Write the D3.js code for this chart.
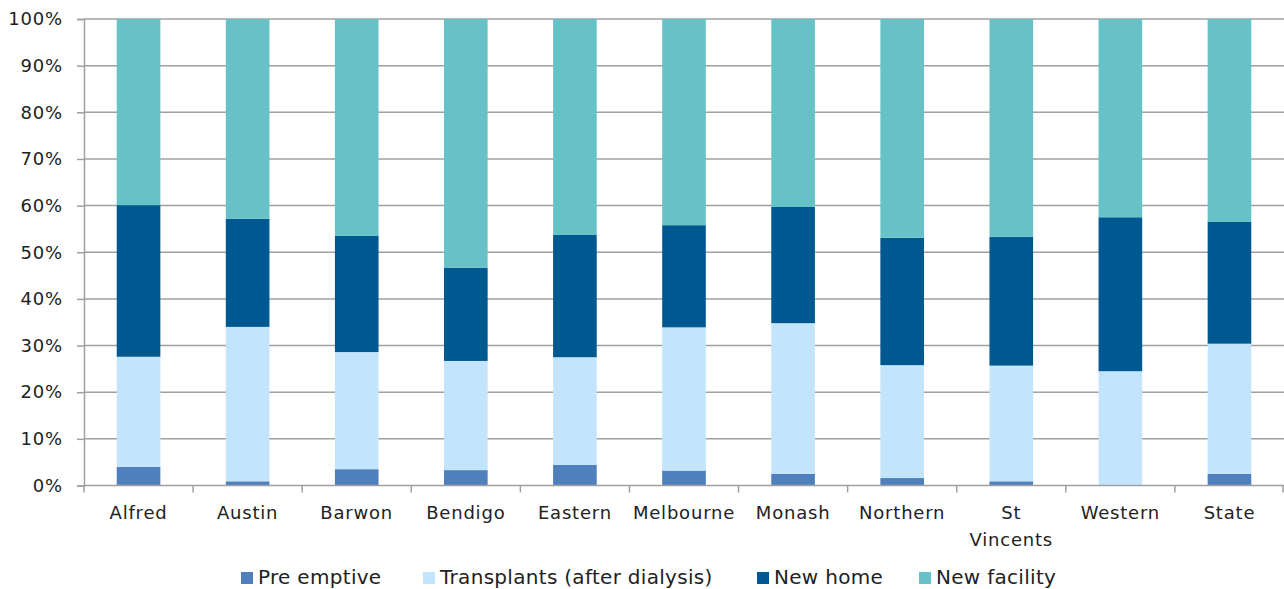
<!DOCTYPE html>
<html><head><meta charset="utf-8">
<script src="https://cdn.jsdelivr.net/npm/d3@7"></script>
<style>body{margin:0;background:#fff;}svg{display:block;font-family:"DejaVu Sans",sans-serif;}</style>
</head><body><svg id="c" width="1284" height="589"></svg>
<script>
const categories = ["Alfred","Austin","Barwon","Bendigo","Eastern","Melbourne","Monash","Northern","St Vincents","Western","State"];
const seriesNames = ["Pre emptive","Transplants (after dialysis)","New home","New facility"];
const preEmptive   = [4.0, 0.9, 3.5, 3.3, 4.4, 3.2, 2.5, 1.6, 0.9, 0.0, 2.5];
const transplants  = [23.6, 33.1, 25.1, 23.4, 23.1, 30.7, 32.3, 24.2, 24.8, 24.5, 27.9];
const newHome      = [32.5, 23.2, 24.9, 20.0, 26.2, 21.9, 24.9, 27.3, 27.6, 33.0, 26.1];
const newFacility  = [39.9, 42.8, 46.5, 53.3, 46.3, 44.2, 40.3, 46.9, 46.7, 42.5, 43.5];
const yTicks = [0,10,20,30,40,50,60,70,80,90,100];
const colors = ["#4f80bd","#c3e5fc","#005891","#67c2c8"];

const svg = d3.select("#c");
const m = {l:84, r:0, t:19, b:104};
const W = 1284, H = 589;
const x = d3.scaleBand().domain(categories).range([m.l, W - m.r]).paddingInner(0.6).paddingOuter(0.3);
const xb = d3.scaleBand().domain(categories).range([m.l, W - m.r]);
const y = d3.scaleLinear().domain([0,100]).range([H - m.b + 0.5, m.t]);

// gridlines
svg.append("g").selectAll("line").data(yTicks.filter(d=>d>0)).join("line")
  .attr("x1", m.l).attr("x2", W).attr("y1", d=>y(d)).attr("y2", d=>y(d))
  .attr("stroke","#a0a0a0").attr("stroke-width",1.5);

const rows = categories.map((c,i)=>({cat:c, s0:preEmptive[i], s1:transplants[i], s2:newHome[i], s3:newFacility[i]}));
const stack = d3.stack().keys(["s0","s1","s2","s3"]);
const layers = stack(rows);
svg.append("g").selectAll("g").data(layers).join("g").attr("fill",(d,i)=>colors[i])
  .selectAll("rect").data(d=>d).join("rect")
  .attr("x", d=>x(d.data.cat)).attr("width", x.bandwidth())
  .attr("y", d=>y(d[1])).attr("height", d=>Math.max(0, y(d[0]) - y(d[1])));

// y axis
const ya = svg.append("g").attr("transform",`translate(${m.l},0)`)
  .call(d3.axisLeft(y).tickValues(yTicks).tickFormat(d=>d+"%").tickSize(7).tickPadding(14));
ya.select(".domain").attr("stroke","#a0a0a0").attr("stroke-width",1.5);
ya.selectAll(".tick line").attr("stroke","#a0a0a0").attr("stroke-width",1.5);
ya.selectAll("text").attr("font-size",18).attr("letter-spacing","0.8px").attr("fill","#222").attr("font-family","DejaVu Sans");

// x axis baseline and ticks
const base = y(0);
svg.append("line").attr("x1",m.l).attr("x2",W).attr("y1",base).attr("y2",base).attr("stroke","#a0a0a0").attr("stroke-width",1.5);
svg.append("g").selectAll("line").data(categories.concat(["_end"])).join("line")
  .attr("x1",(d,i)=>i<categories.length? xb(d): W-1).attr("x2",(d,i)=>i<categories.length? xb(d): W-1)
  .attr("y1",base).attr("y2",base+7).attr("stroke","#a0a0a0").attr("stroke-width",1.5);

// x labels
const xl = svg.append("g").selectAll("text").data(categories).join("text")
  .attr("x", d=>xb(d)+xb.bandwidth()/2).attr("y", 519)
  .attr("text-anchor","middle").attr("font-size",18).attr("letter-spacing","0.8px").attr("fill","#222");
xl.each(function(d){
  const t = d3.select(this);
  if (d === "St Vincents") {
    t.append("tspan").attr("x", xb(d)+xb.bandwidth()/2).attr("dy",0).text("St");
    t.append("tspan").attr("x", xb(d)+xb.bandwidth()/2).attr("dy",27).text("Vincents");
  } else t.text(d);
});

// legend
const legX = [241, 423, 757, 919];
const lg = svg.append("g").selectAll("g").data(seriesNames).join("g")
  .attr("transform",(d,i)=>`translate(${legX[i]},572)`);
lg.append("rect").attr("width",12).attr("height",12).attr("fill",(d,i)=>colors[i]);
lg.append("text").attr("x",17).attr("y",12).attr("font-size",20).attr("letter-spacing","0.3px").attr("fill","#222").text(d=>d);
</script></body></html>
